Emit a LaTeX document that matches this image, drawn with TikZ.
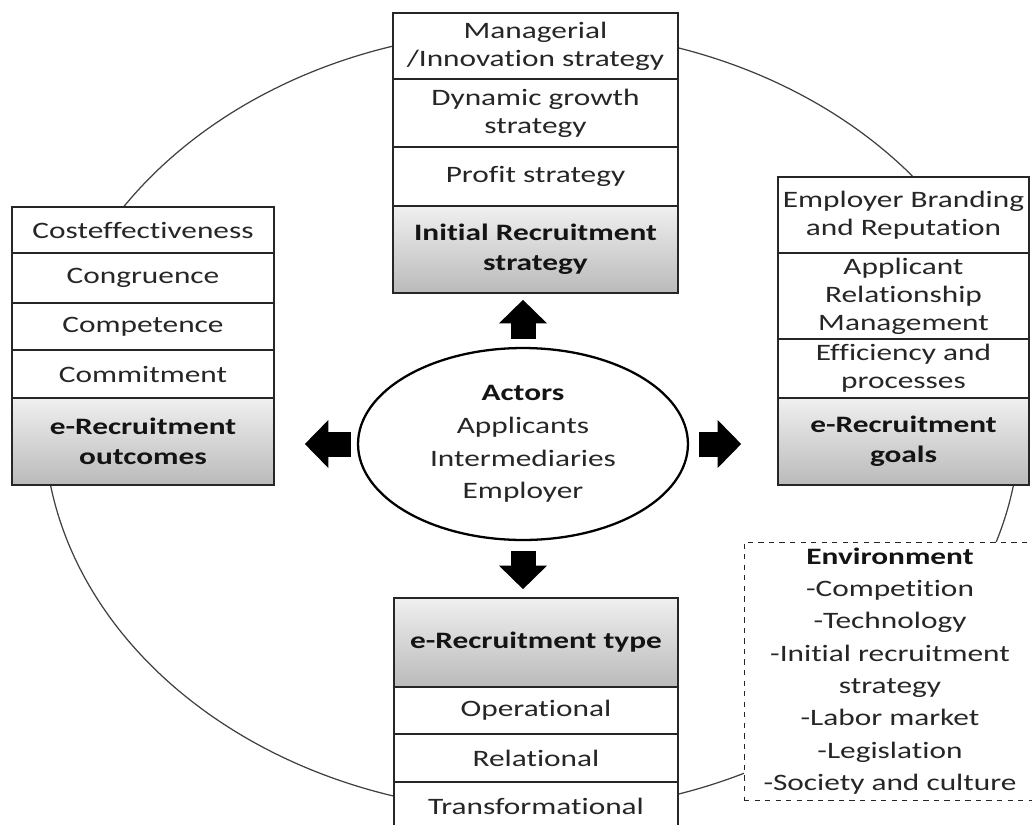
\documentclass[tikz,border=0pt]{standalone}
\usepackage{fontspec}
\setmainfont{Carlito}[FakeStretch=1.33, Ligatures=NoCommon]
\usetikzlibrary{arrows.meta,shapes.geometric}

\begin{document}
\begin{tikzpicture}[x=0.02cm, y=-0.02cm,
  every node/.style={font=\fontsize{13.4}{16}\selectfont, text=black!85},
  cell/.style={draw=black!85, line width=1pt, fill=white, inner sep=0pt, align=center},
  head/.style={cell, top color=black!6, bottom color=black!27, font=\fontsize{13.4}{17}\selectfont\bfseries, text=black!92},
  bigarrow/.style={line width=0.5cm, -{Triangle[width=0.96cm, length=0.47cm, line width=0pt]}}]
\useasboundingbox (0,0) rectangle (1032,825);
\clip (0,0) rectangle (1032,825);
% Outer ring
\draw[black!75, line width=0.7pt] (532,421) ellipse [x radius=488, y radius=391];
% Initial recruitment strategy
\node[cell, minimum width=5.7cm, minimum height=1.32cm] (mgr) at (535.5,46) {Managerial\\/Innovation strategy};
\node[cell, minimum width=5.7cm, minimum height=1.36cm] (dyn) at (535.5,113) {Dynamic growth\\strategy};
\node[cell, minimum width=5.7cm, minimum height=1.18cm] (prof) at (535.5,176.5) {Profit strategy};
\node[head, minimum width=5.7cm, minimum height=1.74cm] (strat) at (535.5,249.5) {Initial Recruitment\\strategy};
% Outcomes
\node[cell, minimum width=5.24cm, minimum height=0.92cm] (cost) at (143,230) {Costeffectiveness};
\node[cell, minimum width=5.24cm, minimum height=1cm] (cong) at (143,278) {Congruence};
\node[cell, minimum width=5.24cm, minimum height=0.94cm] (comp) at (143,326.5) {Competence};
\node[cell, minimum width=5.24cm, minimum height=0.96cm] (comm) at (143,374) {Commitment};
\node[head, minimum width=5.24cm, minimum height=1.74cm] (outc) at (143,441.5) {e-Recruitment\\outcomes};
% Goals
\node[cell, minimum width=5.02cm, minimum height=1.52cm] (brand) at (903.5,215) {Employer Branding\\and Reputation};
\node[cell, minimum width=5.02cm, minimum height=1.72cm] (arm) at (903.5,296) {Applicant\\Relationship\\Management};
\node[cell, minimum width=5.02cm, minimum height=1.18cm] (eff) at (903.5,368.5) {Efficiency and\\processes};
\node[head, minimum width=5.02cm, minimum height=1.74cm] (goals) at (903.5,441.5) {e-Recruitment\\goals};
% Type
\node[head, minimum width=5.68cm, minimum height=1.78cm] (type) at (536,642.5) {e-Recruitment type};
\node[cell, minimum width=5.68cm, minimum height=0.94cm] (oper) at (536,710.5) {Operational};
\node[cell, minimum width=5.68cm, minimum height=0.96cm] (rel) at (536,758) {Relational};
\node[cell, minimum width=5.68cm, minimum height=0.96cm] (trans) at (536,806) {Transformational};
% Environment
\node[draw=black!85, dashed, fill=white, minimum width=5.84cm, minimum height=5.16cm, inner sep=0pt, align=center, font=\fontsize{13.4}{18.4}\selectfont] (env) at (890,671)
  {\textbf{\color{black!92}Environment}\\-Competition\\-Technology\\-Initial recruitment\\strategy\\-Labor market\\-Legislation\\-Society and culture};
% Actors
\node[draw=black, ellipse, line width=1.3pt, fill=white, minimum width=6.6cm, minimum height=3.84cm, inner sep=0pt, align=center, font=\fontsize{13.4}{18.6}\selectfont] (actors) at (523,444)
  {\textbf{\color{black!92}Actors}\\Applicants\\Intermediaries\\Employer};
% Block arrows
\draw[bigarrow, shorten <=0.16cm, shorten >=0.12cm] (actors.north) -- (actors.north |- strat.south);
\draw[bigarrow, shorten <=0.2cm, shorten >=0.16cm] (actors.south) -- (actors.south |- type.north);
\draw[bigarrow, shorten <=0.12cm, shorten >=0.6cm] (actors.west) -- (actors.west -| outc.east);
\draw[bigarrow, shorten <=0.2cm, shorten >=0.72cm] (actors.east) -- (actors.east -| goals.west);
\end{tikzpicture}
\end{document}
